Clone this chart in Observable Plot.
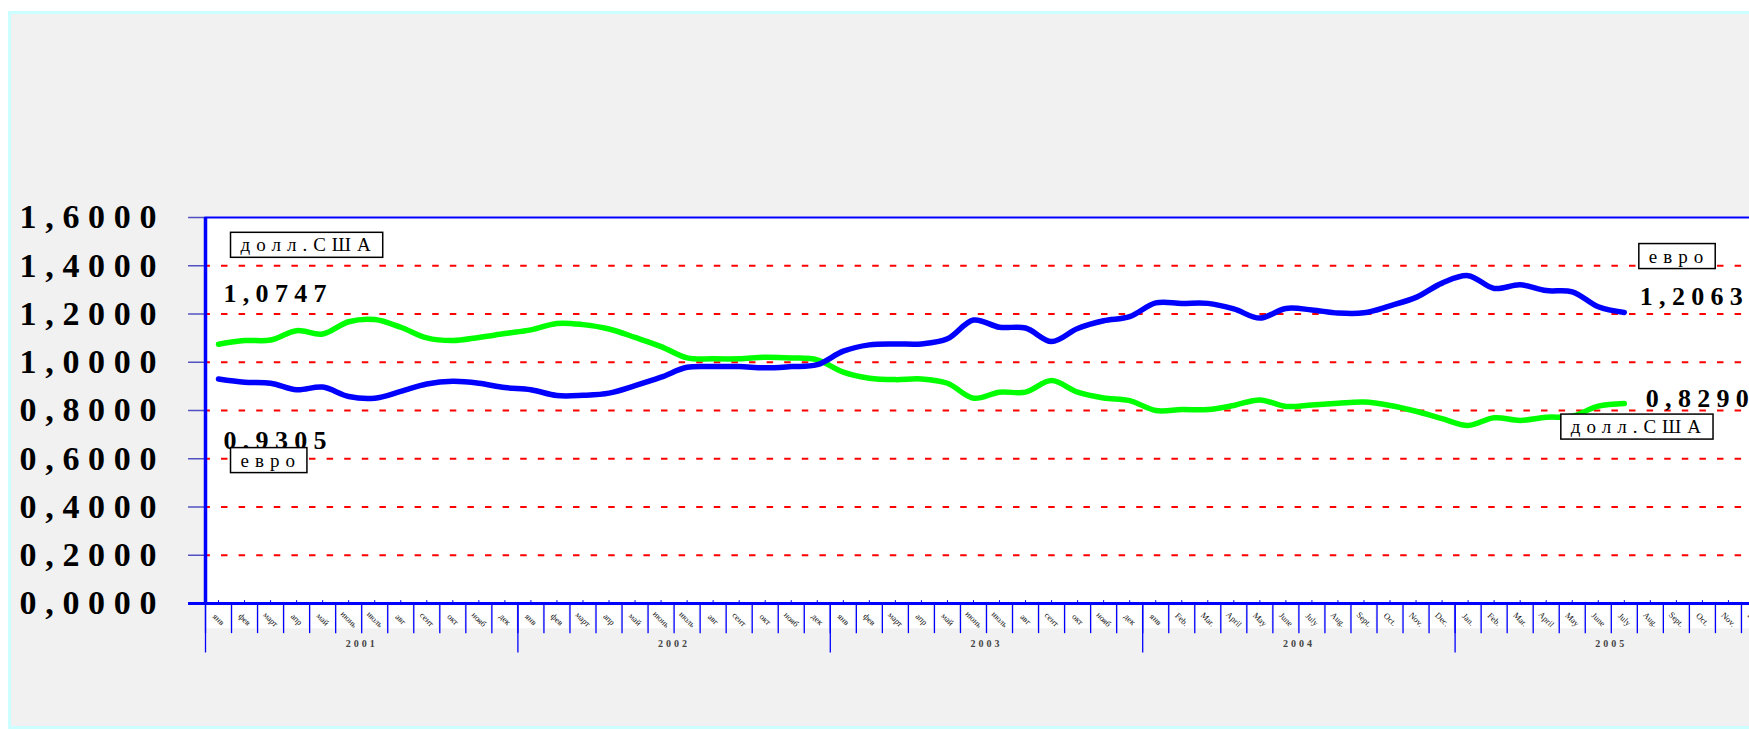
<!DOCTYPE html>
<html><head><meta charset="utf-8">
<script src="https://cdn.jsdelivr.net/npm/d3@7"></script>
<script src="https://cdn.jsdelivr.net/npm/@observablehq/plot@0.6"></script>
<style>
html,body{margin:0;padding:0;background:#fff;overflow:hidden;width:1749px;height:730px;}
#bg{position:absolute;left:8px;top:11px;width:1760px;height:718px;background:#f1f1f1;border:3px solid #ccffff;border-right:none;box-sizing:border-box;}
#chart{position:absolute;left:0;top:0;}
</style></head><body>
<div id="bg"></div><div id="chart"></div>
<script>
// Categories: months Jan 2001 – Dec 2005
const months = [
  "янв","фев","март","апр","май","июнь","июль","авг","сент","окт","нояб","дек",
  "янв","фев","март","апр","май","июнь","июль","авг","сент","окт","нояб","дек",
  "янв","фев","март","апр","май","июнь","июль","авг","сент","окт","нояб","дек",
  "янв","Feb.","Mar.","April","May","June","July","Aug.","Sept.","Oct.","Nov.","Dec.",
  "Jan.","Feb.","Mar.","April","May","June","July","Aug.","Sept.","Oct.","Nov.","Dec."
];
const years = ["2001","2002","2003","2004","2005"];
// Series: евро (in USD) and долл.США (in EUR), Jan 2001 – Jul 2005
const euro = [
  0.9305,0.917,0.913,0.886,0.897,0.858,0.851,0.879,0.910,0.921,0.913,0.895,
  0.886,0.862,0.863,0.872,0.903,0.938,0.979,0.982,0.982,0.977,0.982,0.990,
  1.046,1.072,1.076,1.076,1.097,1.175,1.145,1.142,1.086,1.140,1.172,1.189,
  1.246,1.244,1.244,1.221,1.183,1.223,1.217,1.204,1.205,1.234,1.269,1.328,
  1.359,1.306,1.321,1.297,1.292,1.230,1.2063
];
const usd = [
  1.0747,1.090,1.092,1.131,1.117,1.168,1.177,1.145,1.101,1.090,1.103,1.119,
  1.134,1.161,1.156,1.138,1.103,1.065,1.018,1.014,1.014,1.021,1.018,1.010,
  0.959,0.934,0.928,0.931,0.913,0.851,0.876,0.876,0.924,0.876,0.852,0.841,
  0.800,0.804,0.804,0.821,0.844,0.817,0.823,0.830,0.835,0.821,0.797,0.766,
  0.738,0.770,0.759,0.772,0.776,0.818,0.8290
];
const yTicks = [0,0.2,0.4,0.6,0.8,1.0,1.2,1.4,1.6];
const seriesNames = {euro: "евро", usd: "долл.США"};

const fmt = v => v.toFixed(4).replace(".", ",");
const euroRows = euro.map((v,i)=>({i, v}));
const usdRows = usd.map((v,i)=>({i, v}));
const firstE = euroRows[0], lastE = euroRows[euroRows.length-1];
const firstU = usdRows[0], lastU = usdRows[usdRows.length-1];
const serif = "'Liberation Serif','Times New Roman',serif";
const mi = (d,i)=>i;           // month boundary index
const mc = (d,i)=>i+0.5;       // month centre
const yearStarts = years.map((d,k)=>k*12);

const plot = Plot.plot({
  width: 1749, height: 730,
  marginLeft: 205, marginRight: -18, marginTop: 217, marginBottom: 127,
  style: {background: "transparent", overflow: "hidden"},
  x: {type: "linear", domain: [0, months.length], axis: null},
  y: {domain: [0, 1.6], axis: null},
  marks: [
    Plot.frame({fill: "white", stroke: "#0000ff", strokeWidth: 2}),
    // horizontal dashed gridlines
    Plot.ruleY(yTicks.filter(v => v > 0 && v < 1.6), {stroke: "#ff0000", strokeWidth: 2, strokeDasharray: "6.5,11.1", strokeDashoffset: 1.6}),
    // y tick marks
    Plot.ruleY(yTicks, {x1: -0.65, x2: 0, stroke: "#5050c0", strokeWidth: 1.5}),
    // white label boxes under axis
    Plot.rect(months, {x1: d=>0, x2: d=>0, y1: -0.01, y2: -0.105, fill: "white"}),
    Plot.rect(months, {x1: (d,i)=>i+0.05, x2: (d,i)=>i+0.95, y1: -0.01, y2: -0.105, fill: "white"}),
    // month separators
    Plot.ruleX(months, {x: mi, y1: 0, y2: -0.125, stroke: "#0000ff", strokeWidth: 1.3}),
    Plot.ruleX(yearStarts, {x: d=>d, y1: 0, y2: -0.205, stroke: "#0000ff", strokeWidth: 1.3}),
    Plot.ruleX(months, {x: mc, y1: 0, y2: 0.012, stroke: "#0000ff", strokeWidth: 1}),
    // month labels
    Plot.text(months, {x: mc, y: 0, dy: 16, text: d=>d, rotate: 45, fontSize: 8.5, fontFamily: serif, fill: "#111"}),
    // year labels
    Plot.text(years, {x: (d,k)=>k*12+6, y: 0, dy: 40, text: d=>d, fontSize: 10, fontWeight: "bold", fontFamily: serif, fill: "#444", ariaDescription: "years"}),
    // left border + axis
    Plot.ruleX([0], {stroke: "#0000ff", strokeWidth: 3.5}),
    Plot.ruleY([0], {x1: -0.65, x2: months.length, stroke: "#0000ff", strokeWidth: 3}),
    // y labels
    Plot.text(yTicks, {y: d=>d, text: fmt, frameAnchor: "left", dx: -186, textAnchor: "start", lineAnchor: "middle",
      fontSize: 34, fontWeight: "bold", fontFamily: serif, fill: "#000", ariaDescription: "ylabels"}),
    // series
    Plot.line(usdRows, {x: d=>d.i+0.5, y: "v", stroke: "#00ff00", strokeWidth: 5.5, curve: "catmull-rom"}),
    Plot.line(euroRows, {x: d=>d.i+0.5, y: "v", stroke: "#0000ff", strokeWidth: 5.5, curve: "catmull-rom"}),
    // value labels
    Plot.text([firstU], {x: d=>d.i+0.5, y: "v", text: d=>fmt(d.v), dx: 5, dy: -42, textAnchor: "start", lineAnchor: "bottom", fontSize: 26, fontWeight: "bold", fontFamily: serif, fill: "#000", ariaDescription: "vlabels"}),
    Plot.text([firstE], {x: d=>d.i+0.5, y: "v", text: d=>fmt(d.v), dx: 5, dy: 70, textAnchor: "start", lineAnchor: "bottom", fontSize: 26, fontWeight: "bold", fontFamily: serif, fill: "#000", ariaDescription: "vlabels"}),
    Plot.text([lastE], {x: d=>d.i+0.5, y: "v", text: d=>fmt(d.v), dx: 15.5, dy: -7, textAnchor: "start", lineAnchor: "bottom", fontSize: 26, fontWeight: "bold", fontFamily: serif, fill: "#000", ariaDescription: "vlabels"}),
    Plot.text([lastU], {x: d=>d.i+0.5, y: "v", text: d=>fmt(d.v), dx: 21.5, dy: 3, textAnchor: "start", lineAnchor: "bottom", fontSize: 26, fontWeight: "bold", fontFamily: serif, fill: "#000", ariaDescription: "vlabels"}),
    // series name boxes
    Plot.text([firstU], {x: d=>d.i+0.5, y: "v", text: d=>seriesNames.usd, dx: 22, dy: -99, textAnchor: "start", lineAnchor: "middle", fontSize: 19, fontFamily: serif, fill: "#000", ariaDescription: "legend"}),
    Plot.text([firstE], {x: d=>d.i+0.5, y: "v", text: d=>seriesNames.euro, dx: 22, dy: 81.5, textAnchor: "start", lineAnchor: "middle", fontSize: 19, fontFamily: serif, fill: "#000", ariaDescription: "legend"}),
    Plot.text([lastE], {x: d=>d.i+0.5, y: "v", text: d=>seriesNames.euro, dx: 24.5, dy: -56, textAnchor: "start", lineAnchor: "middle", fontSize: 19, fontFamily: serif, fill: "#000", ariaDescription: "legend"}),
    Plot.text([lastU], {x: d=>d.i+0.5, y: "v", text: d=>seriesNames.usd, dx: -53.5, dy: 23.5, textAnchor: "start", lineAnchor: "middle", fontSize: 19, fontFamily: serif, fill: "#000", ariaDescription: "legend"})
  ]
});
document.getElementById("chart").appendChild(plot);
const svg = d3.select(plot);
svg.selectAll('g[aria-description="ylabels"] text').attr("letter-spacing", 8.7);
svg.selectAll('g[aria-description="vlabels"] text').attr("letter-spacing", 6.3);
svg.selectAll('g[aria-description="years"] text').attr("letter-spacing", 3);
svg.selectAll('g[aria-description="legend"] text').attr("letter-spacing", 6).each(function() {
  const b = this.getBBox();
  const r = document.createElementNS("http://www.w3.org/2000/svg", "rect");
  r.setAttribute("x", b.x - 10);
  r.setAttribute("y", b.y + b.height/2 - 12.5);
  r.setAttribute("width", b.width + 16);
  r.setAttribute("height", 25);
  r.setAttribute("fill", "white");
  r.setAttribute("stroke", "#000");
  r.setAttribute("stroke-width", 1.5);
  const t = this.getAttribute("transform");
  if (t) r.setAttribute("transform", t);
  this.parentNode.insertBefore(r, this);
});
</script>
</body></html>
